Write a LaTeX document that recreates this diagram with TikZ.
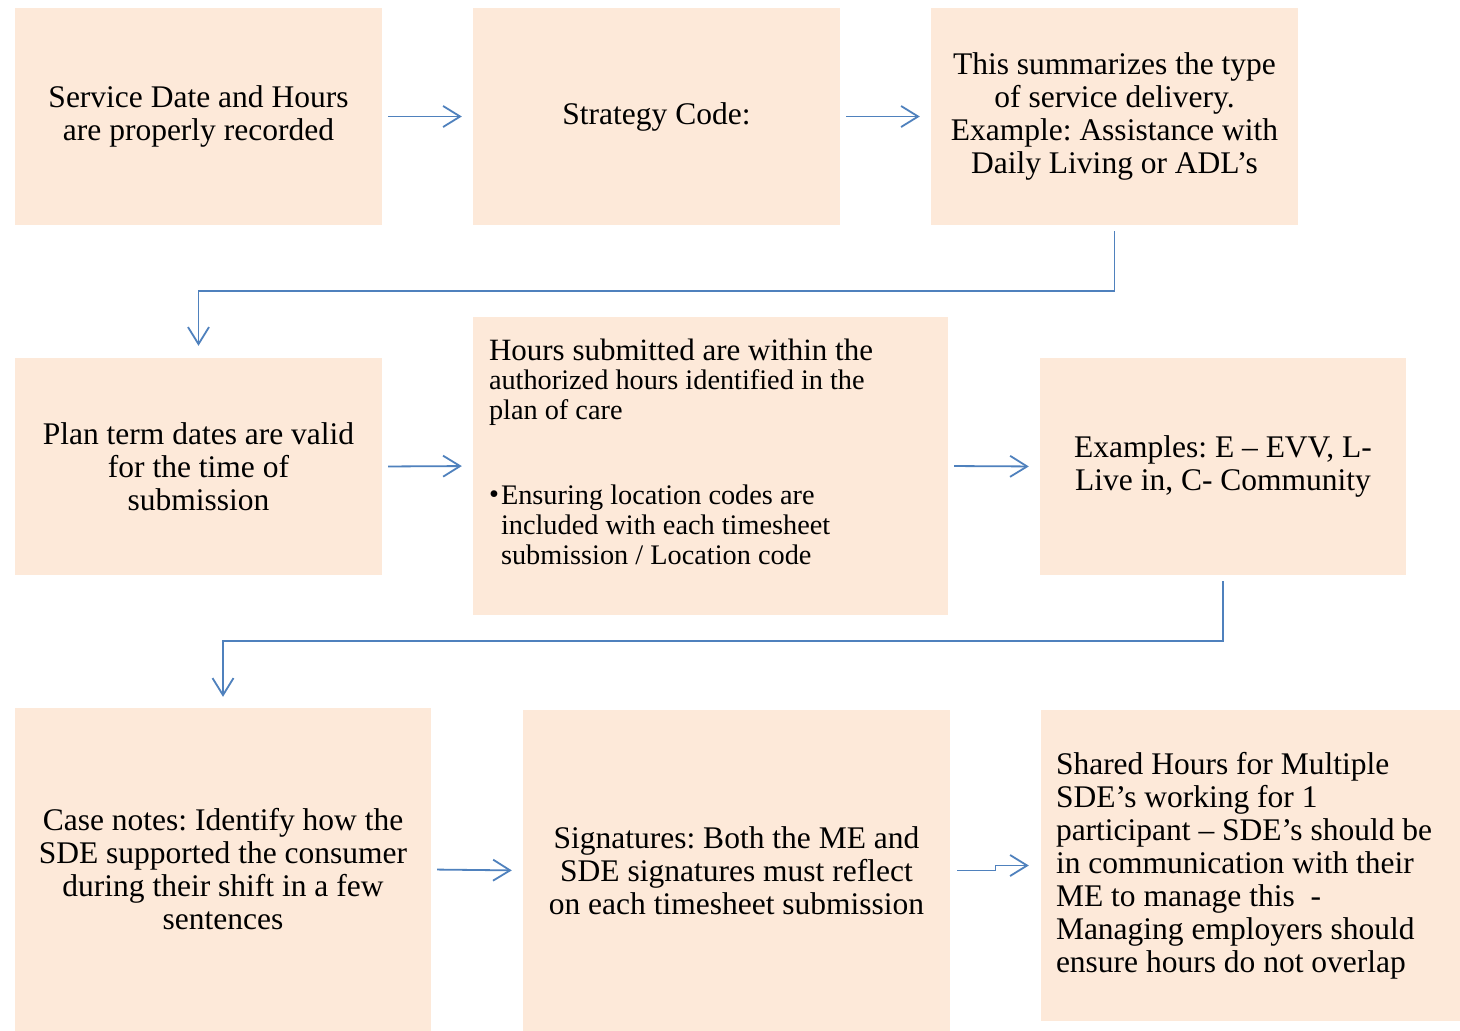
\documentclass[tikz,border=0pt]{standalone}
\usepackage{fontspec}
\setmainfont{Liberation Serif}
\usetikzlibrary{arrows.meta,calc}
\definecolor{boxfill}{HTML}{FDE9D9}
\definecolor{arrowblue}{HTML}{4F81BD}
\begin{document}
\frenchspacing
\begin{tikzpicture}[x=1pt,y=-1pt,
  box/.style={fill=boxfill,draw=none,inner sep=0pt,
    font=\frenchspacing\fontsize{31.5}{33}\selectfont,align=center},
  conn/.style={draw=arrowblue,line width=1.8pt,
    -{Straight Barb[length=17pt,width=21pt,line width=1.8pt]},
    shorten <=6pt,shorten >=11pt}]
\useasboundingbox (0,0) rectangle (1460,1031);
\fill[white] (0,0) rectangle (1460,1031);

\node[box,minimum width=367pt,minimum height=217pt] (b1) at (198.5,116.5)
  {Service Date and Hours\\are properly recorded};
\node[box,minimum width=367pt,minimum height=217pt] (b2) at (656.5,116.5)
  {Strategy Code:};
\node[box,minimum width=367pt,minimum height=217pt] (b3) at (1114.5,116.5)
  {This summarizes the type\\of service delivery.\\Example: Assistance with\\Daily Living or ADL’s};

\node[box,minimum width=367pt,minimum height=217pt] (b4) at (198.5,466.5)
  {Plan term dates are valid\\for the time of\\submission};
\node[box,minimum width=475pt,minimum height=298pt,align=flush left,
  text width=443pt] (b5) at (710.5,466)
  {{\fontsize{31}{31}\selectfont Hours submitted are within the}\\[-1pt]
   \fontsize{28.3}{30}\selectfont authorized hours identified in the\\
   plan of care\\[55pt]
   \makebox[12pt][l]{\raisebox{1pt}{•}}Ensuring location codes are\\
   \hspace*{12pt}included with each timesheet\\
   \hspace*{12pt}submission / Location code\\[-4pt]\mbox{}};
\node[box,minimum width=366pt,minimum height=217pt] (b6) at (1223,466.5)
  {Examples: E – EVV, L-\\Live in, C- Community};

\node[box,minimum width=416pt,minimum height=323pt] (b7) at (223,869.5)
  {Case notes: Identify how the\\SDE supported the consumer\\during their shift in a few\\sentences};
\node[box,minimum width=427pt,minimum height=321pt] (b8) at (736.5,870.5)
  {Signatures: Both the ME and\\SDE signatures must reflect\\on each timesheet submission};
\node[box,minimum width=419pt,minimum height=311pt,align=flush left,
  text width=389pt] (b9) at (1250.5,865.5)
  {Shared Hours for Multiple\\SDE’s working for 1\\participant – SDE’s should be\\in communication with their\\ME to manage this~ -\\Managing employers should\\ensure hours do not overlap};

\draw[conn] (b1.east) -- (b2.west);
\draw[conn] (b2.east) -- (b3.west);
\draw[conn,shorten >=12pt] (b3.south) -- ($(b3.south)+(0,66)$) -| (b4.north);
\draw[conn] (b4.east) -- (b5.west);
\draw[conn] (b5.east) -- (b6.west);
\draw[conn] (b6.south) -- ($(b6.south)+(0,66)$) -| (b7.north);
\draw[conn] (b7.east) -- (b8.west);
\draw[conn,shorten <=7pt,shorten >=12pt] (b8.east) -| ($(b8.east)!0.5!(b9.west)$) |- (b9.west);
\end{tikzpicture}
\end{document}
